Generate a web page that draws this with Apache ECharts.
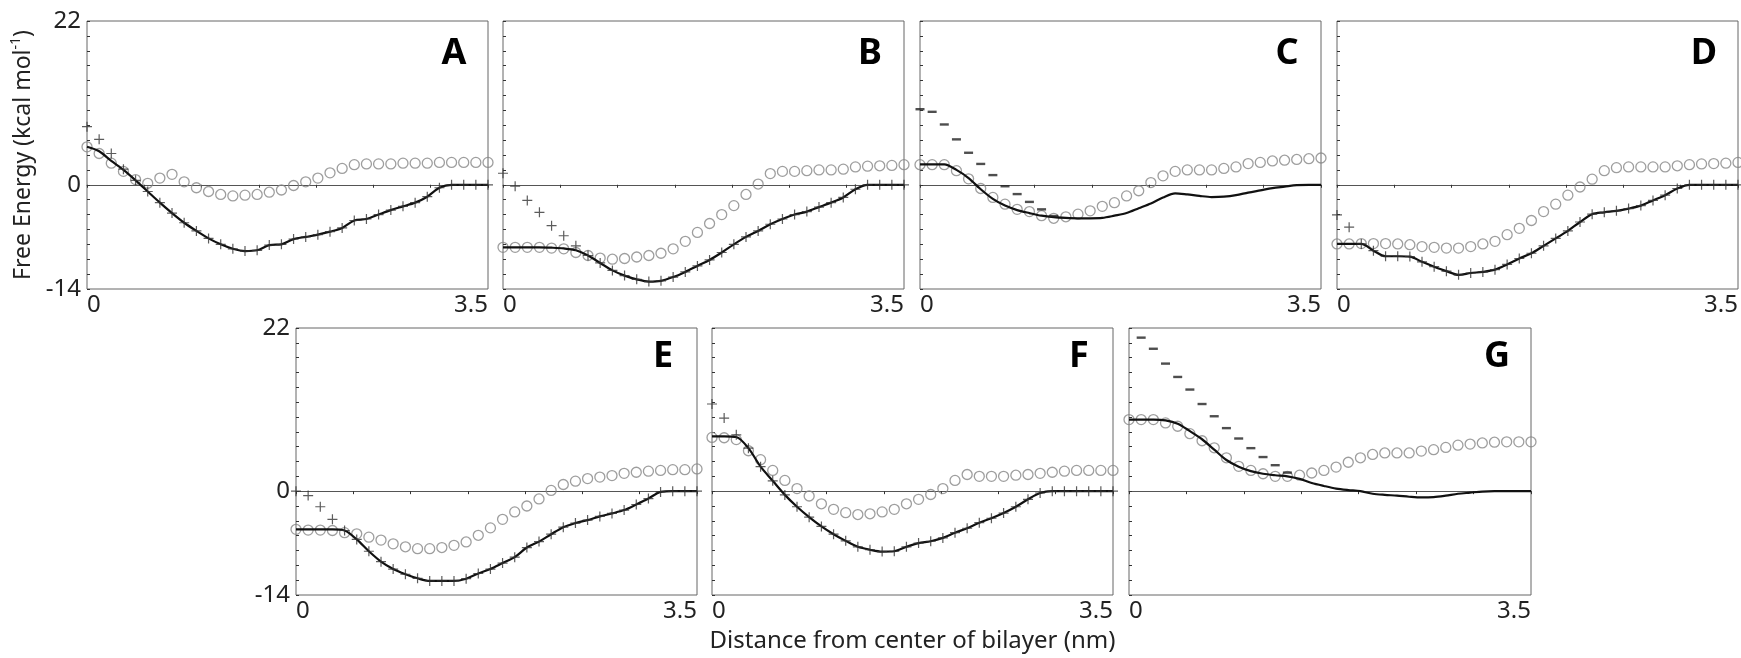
<!DOCTYPE html>
<html>
<head>
<meta charset="utf-8">
<title>Free energy profiles</title>
<script src="https://cdn.jsdelivr.net/npm/echarts@6.0.0/dist/echarts.min.js"></script>
<style>
  html, body { margin: 0; padding: 0; background: #fff; }
  #chart { width: 1741px; height: 658px; }
</style>
</head>
<body>
<div id="chart"></div>
<script>
// distance from the centre of the bilayer (nm), same sampling in every panel
var xNm = [0, 0.106, 0.212, 0.318, 0.424, 0.530, 0.636, 0.742, 0.848, 0.955, 1.061, 1.167,
    1.273, 1.379, 1.485, 1.591, 1.697, 1.803, 1.909, 2.015, 2.121, 2.227, 2.333, 2.439,
    2.545, 2.652, 2.758, 2.864, 2.970, 3.076, 3.182, 3.288, 3.394, 3.5];

// A
var lineA = [5.1, 4.5, 3.2, 2.0, 0.6, -0.9, -2.4, -3.8, -5.1, -6.2, -7.2, -8.0, -8.6, -8.9, -8.8, -8.1, -8.0,
    -7.3, -7.0, -6.7, -6.3, -5.8, -4.8, -4.6, -4.0, -3.4, -2.9, -2.4, -1.6, -0.4, 0, 0, 0, 0];
var plusA = [7.8, 6.1, 4.2, 2.1, 0.6, -0.9, -2.4, -3.8, -5.1, -6.2, -7.2, -8.0, -8.6, -8.9, -8.8, -8.1, -8.0,
    -7.3, -7.0, -6.7, -6.3, -5.8, -4.8, -4.6, -4.0, -3.4, -2.9, -2.4, -1.6, -0.4, 0, 0, 0, 0];
var circA = [5.1, 4.2, 2.9, 1.8, 0.7, 0.2, 0.9, 1.4, 0.4, -0.4, -0.9, -1.3, -1.5, -1.4, -1.3, -1.0, -0.7,
    -0.1, 0.4, 0.9, 1.6, 2.2, 2.7, 2.8, 2.8, 2.8, 2.9, 2.9, 2.9, 3.0, 3.0, 3.0, 3.0, 3.0];

// B
var lineB = [-8.4, -8.4, -8.4, -8.4, -8.45, -8.55, -8.8, -9.5, -10.5, -11.5, -12.2, -12.7, -13.0, -12.9, -12.4,
    -11.7, -10.9, -10.1, -9.1, -8.0, -7.0, -6.2, -5.3, -4.6, -4.0, -3.6, -3.0, -2.4, -1.7, -0.6, 0, 0, 0, 0];
var plusB = [1.55, -0.2, -2.1, -3.7, -5.5, -6.85, -8.2, -9.5, -10.5, -11.5, -12.2, -12.7, -13.0, -12.9, -12.4,
    -11.7, -10.9, -10.1, -9.1, -8.0, -7.0, -6.2, -5.3, -4.6, -4.0, -3.6, -3.0, -2.4, -1.7, -0.6, 0, 0, 0, 0];
var circB = [-8.4, -8.4, -8.4, -8.4, -8.5, -8.6, -9.1, -9.5, -9.85, -10.0, -9.9, -9.7, -9.5, -9.2, -8.6, -7.6,
    -6.4, -5.2, -4.0, -2.8, -1.3, 0.1, 1.5, 1.8, 1.8, 1.9, 2.0, 2.0, 2.1, 2.4, 2.5, 2.55, 2.6, 2.7];

// C
var lineC = [2.75, 2.75, 2.75, 2.0, 0.9, -0.6, -1.9, -2.8, -3.4, -3.8, -4.15, -4.35, -4.45, -4.5, -4.5, -4.45,
    -4.15, -3.8, -3.15, -2.5, -1.7, -1.15, -1.3, -1.5, -1.65, -1.6, -1.4, -1.05, -0.75, -0.45, -0.25, -0.05, 0, 0];
var dashC = [10.15, 9.8, 8.1, 6.1, 4.3, 2.8, 1.3, -0.2, -1.25, -2.3, -3.3, -4.2, null, null, null, null, null,
    null, null, null, null, null, null, null, null, null, null, null, null, null, null, null, null, null];
var circC = [2.7, 2.7, 2.7, 1.9, 0.8, -0.5, -1.7, -2.6, -3.3, -3.6, -4.15, -4.5, -4.3, -3.95, -3.5, -2.9, -2.4,
    -1.5, -0.8, 0.3, 1.2, 1.8, 2.0, 2.0, 2.0, 2.2, 2.4, 2.85, 3.0, 3.2, 3.3, 3.4, 3.5, 3.6];

// D
var lineD = [-7.95, -7.95, -7.95, -8.85, -9.6, -9.6, -9.65, -10.35, -11.0, -11.6, -12.1, -11.85, -11.7, -11.4,
    -10.7, -9.9, -9.2, -8.2, -7.2, -6.2, -5.0, -3.95, -3.7, -3.5, -3.2, -2.8, -2.1, -1.4, -0.5, 0, 0, 0, 0, 0];
var plusD = [-4.05, -5.7, -7.95, -8.85, -9.6, -9.6, -9.65, -10.35, -11.0, -11.6, -12.1, -11.85, -11.7, -11.4,
    -10.7, -9.9, -9.2, -8.2, -7.2, -6.2, -5.0, -3.95, -3.7, -3.5, -3.2, -2.8, -2.1, -1.4, -0.5, 0, 0, 0, 0, 0];
var circD = [-7.95, -7.95, -7.9, -7.9, -7.9, -7.95, -8.05, -8.3, -8.4, -8.5, -8.5, -8.3, -7.95, -7.6, -6.7,
    -5.85, -4.8, -3.6, -2.6, -1.4, -0.3, 0.75, 1.9, 2.3, 2.4, 2.4, 2.4, 2.4, 2.55, 2.7, 2.8, 2.85, 2.9, 3.0];

// E
var lineE = [-5.15, -5.15, -5.15, -5.15, -5.3, -6.5, -8.1, -9.5, -10.5, -11.2, -11.75, -12.1, -12.1, -12.1,
    -11.8, -11.1, -10.5, -9.7, -8.9, -7.6, -6.8, -5.8, -4.85, -4.3, -3.9, -3.4, -3.0, -2.55, -1.8, -1.0, -0.1, 0, 0, 0];
var plusE = [0.0, -0.6, -2.1, -3.8, -5.3, -6.5, -8.1, -9.5, -10.5, -11.2, -11.75, -12.1, -12.1, -12.1,
    -11.8, -11.1, -10.5, -9.7, -8.9, -7.6, -6.8, -5.8, -4.85, -4.3, -3.9, -3.4, -3.0, -2.55, -1.8, -1.0, -0.1, 0, 0, 0];
var circE = [-5.15, -5.25, -5.25, -5.3, -5.6, -5.75, -6.2, -6.6, -7.1, -7.5, -7.75, -7.75, -7.6, -7.3, -6.85,
    -5.95, -4.95, -3.8, -2.8, -2.0, -1.05, 0.1, 0.9, 1.35, 1.7, 1.9, 2.1, 2.4, 2.55, 2.7, 2.8, 2.9, 2.9, 3.0];

// F
var lineF = [7.4, 7.4, 7.3, 5.8, 3.3, 1.4, -0.5, -2.1, -3.5, -4.75, -5.8, -6.7, -7.5, -7.9, -8.15, -8.1, -7.5,
    -7.0, -6.75, -6.3, -5.6, -5.0, -4.25, -3.65, -2.95, -2.1, -1.1, -0.25, 0, 0, 0, 0, 0, 0];
var plusF = [11.75, 9.85, 7.6, 5.8, 3.3, 1.4, -0.5, -2.1, -3.5, -4.75, -5.8, -6.7, -7.5, -7.9, -8.15, -8.1, -7.5,
    -7.0, -6.75, -6.3, -5.6, -5.0, -4.25, -3.65, -2.95, -2.1, -1.1, -0.25, 0, 0, 0, 0, 0, 0];
var circF = [7.25, 7.2, 6.95, 5.45, 4.25, 2.8, 1.45, 0.35, -0.65, -1.7, -2.45, -2.9, -3.15, -3.05, -2.8, -2.45,
    -1.7, -1.1, -0.45, 0.35, 1.45, 2.25, 2.0, 2.0, 2.0, 2.15, 2.25, 2.4, 2.55, 2.7, 2.8, 2.8, 2.8, 2.8];

// G
var lineG = [9.65, 9.65, 9.65, 9.55, 9.1, 8.1, 7.0, 5.6, 4.2, 3.3, 2.7, 2.35, 2.15, 2.0, 1.65, 1.1, 0.7, 0.35,
    0.15, 0.0, -0.35, -0.5, -0.6, -0.75, -0.85, -0.8, -0.6, -0.35, -0.2, -0.05, 0, 0, 0, 0];
var dashG = [null, 20.7, 19.2, 17.2, 15.4, 13.7, 11.75, 10.1, 8.5, 7.1, 5.8, 4.6, 3.5, 2.5, null, null, null,
    null, null, null, null, null, null, null, null, null, null, null, null, null, null, null, null, null];
var circG = [9.65, 9.65, 9.65, 9.2, 8.75, 7.75, 6.8, 5.85, 4.5, 3.35, 2.8, 2.35, 2.0, 2.0, 2.15, 2.45, 2.8, 3.25,
    3.9, 4.5, 4.95, 5.15, 5.15, 5.15, 5.4, 5.6, 5.9, 6.2, 6.35, 6.5, 6.6, 6.65, 6.65, 6.65];

var yTickLabels = [22, 0, -14];
var panelNames = ['A', 'B', 'C', 'D', 'E', 'F', 'G'];

// pixel boxes of the seven frames
var layout = [
    {left: 87, top: 21, width: 401, height: 268},
    {left: 503, top: 21, width: 401, height: 268},
    {left: 920, top: 21, width: 401, height: 268},
    {left: 1337, top: 21, width: 401, height: 268},
    {left: 296, top: 328, width: 401, height: 267},
    {left: 712, top: 328, width: 401, height: 267},
    {left: 1129, top: 328, width: 402, height: 267}
];

var panels = [
    {line: lineA, marks: plusA, mark: 'plus', circles: circA, yLabels: true},
    {line: lineB, marks: plusB, mark: 'plus', circles: circB},
    {line: lineC, marks: dashC, mark: 'dash', circles: circC},
    {line: lineD, marks: plusD, mark: 'plus', circles: circD},
    {line: lineE, marks: plusE, mark: 'plus', circles: circE, yLabels: true},
    {line: lineF, marks: plusF, mark: 'plus', circles: circF, xName: true},
    {line: lineG, marks: dashG, mark: 'dash', circles: circG}
];

var FONT = '"Noto Sans", "DejaVu Sans", sans-serif';
var PLUS = 'path://M4.4,0h1.2v4.4h4.4v1.2h-4.4v4.4h-1.2v-4.4h-4.4v-1.2h4.4z';

function pairs(ys) {
    var out = [];
    for (var i = 0; i < xNm.length; i++) {
        if (ys[i] !== null && ys[i] !== undefined) {
            out.push([xNm[i], ys[i]]);
        }
    }
    return out;
}

var grids = [], xAxes = [], yAxes = [], series = [], titles = [];

panels.forEach(function (p, i) {
    var box = layout[i];
    grids.push({
        left: box.left, top: box.top, width: box.width, height: box.height,
        show: true, borderColor: '#666', borderWidth: 1, backgroundColor: 'transparent'
    });

    // bottom axis: only the 0 and 3.5 labels
    xAxes.push({
        gridIndex: i, type: 'value', min: 0, max: 3.5, interval: 3.5, position: 'bottom',
        axisLine: {show: false, onZero: false},
        axisTick: {show: false},
        splitLine: {show: false},
        axisLabel: {
            margin: 4, fontSize: 24, color: '#222', fontFamily: FONT,
            alignMinLabel: 'left', alignMaxLabel: 'right'
        },
        name: p.xName ? 'Distance from center of bilayer (nm)' : '',
        nameLocation: 'middle', nameGap: 34,
        nameTextStyle: {fontSize: 24, color: '#222', fontFamily: FONT}
    });
    // zero line with 0.5 nm ticks
    xAxes.push({
        gridIndex: i, type: 'value', min: 0, max: 3.5, interval: 0.5, position: 'bottom',
        axisLine: {show: true, onZero: true, lineStyle: {color: '#555', width: 1}},
        axisTick: {show: true, length: 3, lineStyle: {color: '#333', width: 1}},
        axisLabel: {show: false},
        splitLine: {show: false}
    });

    yAxes.push({
        gridIndex: i, type: 'value', min: -14, max: 22, interval: 2,
        axisLine: {show: false, onZero: false},
        axisTick: {show: true, inside: true, length: 3, lineStyle: {color: '#333', width: 1}},
        splitLine: {show: false},
        axisLabel: {
            show: !!p.yLabels, margin: 6, fontSize: 24, color: '#222', fontFamily: FONT,
            formatter: function (v) {
                return yTickLabels.indexOf(v) >= 0 ? String(v) : '';
            }
        },
        name: i === 0 ? '{t|Free Energy (kcal mol}{s|-1}{t|)}' : '',
        nameLocation: 'middle', nameGap: 50,
        nameTextStyle: {
            rich: {
                t: {fontSize: 23, color: '#222', fontFamily: FONT, lineHeight: 28},
                s: {fontSize: 14, color: '#222', fontFamily: FONT, verticalAlign: 'top'}
            }
        }
    });

    series.push({
        type: 'scatter', xAxisIndex: 2 * i, yAxisIndex: i,
        data: pairs(p.circles), symbol: 'circle', symbolSize: 10,
        itemStyle: {color: 'rgba(0,0,0,0)', borderColor: '#868686', borderWidth: 1.3},
        z: 2
    });
    series.push({
        type: 'line', xAxisIndex: 2 * i, yAxisIndex: i,
        data: pairs(p.line), showSymbol: false, smooth: 0.3,
        lineStyle: {color: '#111', width: 2.2},
        z: 3
    });
    series.push({
        type: 'scatter', xAxisIndex: 2 * i, yAxisIndex: i,
        data: pairs(p.marks),
        symbol: p.mark === 'plus' ? PLUS : 'rect',
        symbolSize: p.mark === 'plus' ? 10 : [9, 2.4],
        itemStyle: {color: p.mark === 'plus' ? '#333' : '#222'},
        z: 4
    });

    titles.push({
        text: panelNames[i], textAlign: 'center', padding: 0,
        left: box.left + box.width - 34,
        top: box.top + (i < 4 ? 15 : 11),
        textStyle: {fontSize: 36, fontWeight: 'bold', color: '#000', fontFamily: FONT}
    });
});

var myChart = echarts.init(document.getElementById('chart'), null, {renderer: 'canvas'});
myChart.setOption({
    animation: false,
    backgroundColor: '#fff',
    title: titles,
    grid: grids,
    xAxis: xAxes,
    yAxis: yAxes,
    series: series
});
</script>
</body>
</html>
